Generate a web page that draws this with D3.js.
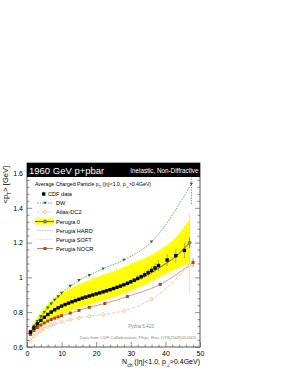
<!DOCTYPE html>
<meta charset="utf-8">
<style>
  body { margin: 0; background: #fff; }
  text { font-family: "Liberation Sans", Arial, sans-serif; }
</style>
<body>
<script src="https://cdn.jsdelivr.net/npm/d3@7"></script>
<script>

    // CDF data
    var cdfN = [1,2,3,4,5,6,7,8,9,10,11,12,13,14,15,16,17,18,19,20,21,22,23,24,25,26,27,28,29,30,31,32,33,34,35,36,37,38,40.5,43,45.5];
    var cdfVal = [0.685,0.71,0.733,0.753,0.771,0.787,0.801,0.814,0.825,0.835,0.844,0.852,0.86,0.867,0.874,0.881,0.887,0.893,0.899,0.905,0.911,0.917,0.923,0.929,0.936,0.943,0.95,0.958,0.966,0.975,0.984,0.994,1.004,1.015,1.027,1.04,1.054,1.068,1.1,1.125,1.155];
    var cdfErr = [0.004,0.004,0.004,0.004,0.004,0.004,0.004,0.004,0.004,0.004,0.005,0.005,0.005,0.005,0.005,0.005,0.006,0.006,0.006,0.006,0.007,0.007,0.007,0.008,0.008,0.009,0.01,0.011,0.012,0.013,0.014,0.016,0.018,0.02,0.022,0.025,0.028,0.031,0.035,0.04,0.045];

    // Perugia 0 + band
    var p0N = [1,2,3,4,5,6,7,8,9,10,12,14,16,18,20,22,25,28,31,34,37,40,43,47];
    var p0Val = [0.682,0.708,0.73,0.75,0.768,0.785,0.8,0.813,0.825,0.835,0.853,0.868,0.882,0.895,0.907,0.919,0.937,0.957,0.98,1.007,1.04,1.078,1.12,1.2];
    var p0Hi = [0.705,0.74,0.772,0.8,0.825,0.847,0.866,0.882,0.897,0.91,0.93,0.95,0.968,0.985,1.0,1.015,1.035,1.06,1.085,1.11,1.14,1.18,1.23,1.335];
    var p0Lo = [0.665,0.685,0.7,0.715,0.73,0.745,0.757,0.768,0.778,0.787,0.803,0.818,0.831,0.844,0.856,0.868,0.887,0.908,0.932,0.958,0.988,1.018,1.048,1.086];

    // DW
    var dwN = [1,2,3,4,5,6,7,8,9,10,12.5,15,18,22,28,36,47.5];
    var dwVal = [0.69,0.72,0.748,0.775,0.8,0.825,0.848,0.87,0.89,0.91,0.95,0.983,1.012,1.05,1.1,1.205,1.537];

    // Atlas-DC2
    var atN = [1,2,3,4,5,6,7,8,10,12.5,15,18,22,28,36,47];
    var atVal = [0.638,0.662,0.68,0.695,0.707,0.717,0.726,0.733,0.745,0.757,0.767,0.777,0.787,0.808,0.875,1.07];

    // Perugia NOCR
    var ncN = [1,2,3,4,5,6,7,8,9,10,12.5,15,18,22.5,29,38.5,48];
    var ncVal = [0.672,0.695,0.712,0.726,0.738,0.749,0.758,0.766,0.773,0.78,0.795,0.81,0.828,0.85,0.89,0.96,1.086];

    var xTicks = [0,10,20,30,40,50];
    var yTicks = [0.6,0.8,1,1.2,1.4,1.6];

    var W = 289, H = 374;
    var mLeft = 27, mRight = 200, mTop = 163, mBottom = 347;

    var svg = d3.select("body").append("svg")
        .attr("width", W)
        .attr("height", H);

    svg.append("rect").attr("width", W).attr("height", H).attr("fill", "#fff");

    var x = d3.scaleLinear().domain([0, 50]).range([mLeft, mRight]);
    var y = d3.scaleLinear().domain([0.6, 1.6]).range([mBottom, 173]);

    function zip(a, b) { return a.map(function (d, i) { return [d, b[i]]; }); }

    svg.append("clipPath").attr("id", "clip")
        .append("rect").attr("x", mLeft).attr("y", mTop).attr("width", mRight - mLeft).attr("height", mBottom - mTop);
    var plot = svg.append("g").attr("clip-path", "url(#clip)");

    // yellow band
    var area = d3.area()
        .x(function (d) { return x(d.n); })
        .y0(function (d) { return y(d.lo); })
        .y1(function (d) { return y(d.hi); })
        .curve(d3.curveMonotoneX);
    plot.append("path")
        .datum(p0N.map(function (n, i) { return {n: n, lo: p0Lo[i], hi: p0Hi[i]}; }))
        .attr("d", area)
        .attr("fill", "#ffff00");

    var line = d3.line()
        .x(function (d) { return x(d[0]); })
        .y(function (d) { return y(d[1]); })
        .curve(d3.curveMonotoneX);

    // Perugia 0
    var p0Last = [p0N[p0N.length - 1], p0Val[p0Val.length - 1]];
    plot.append("path").datum(zip(p0N, p0Val)).attr("d", line)
        .attr("fill", "none").attr("stroke", "#333").attr("stroke-width", 0.8);
    plot.append("line")
        .attr("x1", x(p0Last[0])).attr("x2", x(p0Last[0])).attr("y1", y(1.17)).attr("y2", y(1.23))
        .attr("stroke", "#333").attr("stroke-width", 0.8);
    plot.append("circle")
        .attr("cx", x(p0Last[0])).attr("cy", y(p0Last[1]))
        .attr("r", 1.5).attr("fill", "#999").attr("stroke", "#333").attr("stroke-width", 0.6);

    // NOCR
    var ncCol = "#c4562e";
    plot.append("path").datum(zip(ncN, ncVal)).attr("d", line)
        .attr("fill", "none").attr("stroke", ncCol).attr("stroke-width", 0.8).attr("opacity", 0.75);
    plot.append("line")
        .attr("x1", x(48)).attr("x2", x(48)).attr("y1", y(1.06)).attr("y2", y(1.11))
        .attr("stroke", ncCol).attr("stroke-width", 0.7);
    plot.selectAll(".nc").data(zip(ncN, ncVal)).enter().append("rect")
        .attr("x", function (d) { return x(d[0]) - 1.5; })
        .attr("y", function (d) { return y(d[1]) - 1.5; })
        .attr("width", 3).attr("height", 3).attr("fill", "#b8401a");

    // Atlas-DC2
    var atCol = "#f7a867";
    plot.append("path").datum(zip(atN, atVal)).attr("d", line)
        .attr("fill", "none").attr("stroke", atCol).attr("stroke-width", 0.7)
        .attr("stroke-dasharray", "2.5,1,0.7,1");
    plot.append("line")
        .attr("x1", x(47)).attr("x2", x(47)).attr("y1", y(0.91)).attr("y2", y(1.37))
        .attr("stroke", atCol).attr("stroke-width", 0.7).attr("stroke-dasharray", "1,1");
    plot.selectAll(".at").data(zip(atN, atVal)).enter().append("path")
        .attr("transform", function (d) { return "translate(" + x(d[0]) + "," + y(d[1]) + ")"; })
        .attr("d", "M0,-2L1.6,0L0,2L-1.6,0Z")
        .attr("fill", "#fff").attr("stroke", atCol).attr("stroke-width", 0.7);

    // DW
    var dwCol = "#2e8b2e";
    plot.append("path").datum(zip(dwN, dwVal)).attr("d", line)
        .attr("fill", "none").attr("stroke", dwCol).attr("stroke-width", 0.7)
        .attr("stroke-dasharray", "1.5,1.2");
    plot.append("line")
        .attr("x1", x(47.5)).attr("x2", x(47.5)).attr("y1", y(1.42)).attr("y2", y(1.66))
        .attr("stroke", dwCol).attr("stroke-width", 0.7).attr("stroke-dasharray", "1.5,1.2");
    plot.selectAll(".dw").data(zip(dwN, dwVal)).enter().append("path")
        .attr("transform", function (d) { return "translate(" + x(d[0]) + "," + y(d[1]) + ")"; })
        .attr("d", "M-1.7,-1.3L1.7,-1.3L0,1.6Z")
        .attr("fill", "#1a6e1a");

    // CDF data
    plot.selectAll(".cdfErr").data(cdfN).enter().append("line")
        .attr("x1", function (d) { return x(d); })
        .attr("x2", function (d) { return x(d); })
        .attr("y1", function (d, i) { return y(cdfVal[i] - cdfErr[i]); })
        .attr("y2", function (d, i) { return y(cdfVal[i] + cdfErr[i]); })
        .attr("stroke", "#777").attr("stroke-width", 0.6);
    plot.selectAll(".cdf").data(cdfN).enter().append("rect")
        .attr("x", function (d) { return x(d) - 1.7; })
        .attr("y", function (d, i) { return y(cdfVal[i]) - 1.7; })
        .attr("width", 3.4).attr("height", 3.4).attr("fill", "#000");

    // axes
    var axisCol = "#444";
    function styleAxis(g) {
        g.select(".domain").remove();
        g.selectAll("line").attr("stroke", axisCol).attr("stroke-width", 0.6);
        g.selectAll("text").attr("fill", "#000").style("font-size", "7px")
            .style("font-family", "'Liberation Sans', Arial, sans-serif");
    }
    var yMinor = d3.range(0.64, 1.6, 0.04).filter(function (v) { return Math.abs(v * 5 - Math.round(v * 5)) > 0.01; });
    var xMinor = d3.range(2, 50, 2).filter(function (v) { return v % 10 !== 0; });

    svg.append("g").attr("transform", "translate(" + mLeft + ",0)")
        .call(d3.axisLeft(y).tickValues(yTicks).tickSize(-5).tickPadding(4)
            .tickFormat(function (d) { return d === 1 ? "1" : d3.format(".1f")(d); }))
        .call(styleAxis);
    svg.append("g").attr("transform", "translate(" + mLeft + ",0)")
        .call(d3.axisLeft(y).tickValues(yMinor).tickSize(-2.5).tickFormat(""))
        .call(styleAxis);
    svg.append("g").attr("transform", "translate(" + mRight + ",0)")
        .call(d3.axisRight(y).tickValues(yTicks).tickSize(-5).tickFormat(""))
        .call(styleAxis);
    svg.append("g").attr("transform", "translate(" + mRight + ",0)")
        .call(d3.axisRight(y).tickValues(yMinor).tickSize(-2.5).tickFormat(""))
        .call(styleAxis);
    svg.append("g").attr("transform", "translate(0," + mBottom + ")")
        .call(d3.axisBottom(x).tickValues(xTicks).tickSize(-5).tickPadding(4))
        .call(styleAxis);
    svg.append("g").attr("transform", "translate(0," + mBottom + ")")
        .call(d3.axisBottom(x).tickValues(xMinor).tickSize(-2.5).tickFormat(""))
        .call(styleAxis);

    // frame
    svg.append("rect")
        .attr("x", mLeft).attr("y", mTop).attr("width", mRight - mLeft).attr("height", mBottom - mTop)
        .attr("fill", "none").attr("stroke", "#555").attr("stroke-width", 1);

    // header bar
    svg.append("rect")
        .attr("x", mLeft).attr("y", mTop).attr("width", mRight - mLeft).attr("height", 14)
        .attr("fill", "#000");
    svg.append("text").attr("x", mLeft + 2).attr("y", mTop + 10.5)
        .attr("fill", "#fff").style("font-size", "9.5px").text("1960 GeV p+pbar");
    svg.append("text").attr("x", mRight - 1.5).attr("y", mTop + 10)
        .attr("fill", "#fff").attr("text-anchor", "end").style("font-size", "6.3px")
        .text("Inelastic, Non-Diffractive");

    // legend
    var title = svg.append("text").attr("x", 35).attr("y", 186).style("font-size", "5.2px");
    title.append("tspan").text("Average Charged Particle p");
    title.append("tspan").attr("baseline-shift", "sub").style("font-size", "3.8px").text("T");
    title.append("tspan").text(" (|\u03b7|<1.0, p");
    title.append("tspan").attr("baseline-shift", "sub").style("font-size", "3.8px").text("\u22a5");
    title.append("tspan").text(">0.4GeV)");

    var legendNames = ["CDF data", "DW", "Atlas-DC2", "Perugia 0", "Perugia HARD", "Perugia SOFT", "Perugia NOCR"];
    var legendY = [194, 203, 212, 221.5, 230.5, 239.5, 248.5];
    var lg = svg.append("g");
    var lx0 = 37, lx1 = 53, lxc = 45;

    // CDF
    lg.append("rect").attr("x", 42).attr("y", legendY[0] - 1.7).attr("width", 3.4).attr("height", 3.4).attr("fill", "#000");
    // DW
    lg.append("line").attr("x1", lx0).attr("x2", lx1).attr("y1", legendY[1]).attr("y2", legendY[1])
        .attr("stroke", dwCol).attr("stroke-width", 0.7).attr("stroke-dasharray", "1.5,1.2");
    lg.append("path").attr("transform", "translate(" + lxc + "," + legendY[1] + ")")
        .attr("d", "M-1.7,-1.3L1.7,-1.3L0,1.6Z").attr("fill", "#1a6e1a");
    // Atlas
    lg.append("line").attr("x1", lx0).attr("x2", lx1).attr("y1", legendY[2]).attr("y2", legendY[2])
        .attr("stroke", atCol).attr("stroke-width", 0.7).attr("stroke-dasharray", "2.5,1,0.7,1");
    lg.append("path").attr("transform", "translate(" + lxc + "," + legendY[2] + ")")
        .attr("d", "M0,-2L1.6,0L0,2L-1.6,0Z").attr("fill", "#fff").attr("stroke", atCol).attr("stroke-width", 0.7);
    // Perugia 0
    lg.append("rect").attr("x", 35).attr("y", legendY[3] - 3).attr("width", 19).attr("height", 6).attr("fill", "#ffff00");
    lg.append("line").attr("x1", 35).attr("x2", 54).attr("y1", legendY[3]).attr("y2", legendY[3])
        .attr("stroke", "#333").attr("stroke-width", 0.8);
    lg.append("circle").attr("cx", lxc).attr("cy", legendY[3]).attr("r", 1.5)
        .attr("fill", "#999").attr("stroke", "#333").attr("stroke-width", 0.6);
    // HARD
    lg.append("line").attr("x1", lx0).attr("x2", lx1).attr("y1", legendY[4]).attr("y2", legendY[4])
        .attr("stroke", "#aaa").attr("stroke-width", 0.6).attr("stroke-dasharray", "1.5,1");
    // SOFT
    lg.append("line").attr("x1", lx0).attr("x2", lx1).attr("y1", legendY[5]).attr("y2", legendY[5])
        .attr("stroke", "#ccc").attr("stroke-width", 0.6).attr("stroke-dasharray", "2,1");
    // NOCR
    lg.append("line").attr("x1", lx0).attr("x2", lx1).attr("y1", legendY[6]).attr("y2", legendY[6])
        .attr("stroke", ncCol).attr("stroke-width", 0.8);
    lg.append("rect").attr("x", lxc - 1.5).attr("y", legendY[6] - 1.5).attr("width", 3).attr("height", 3).attr("fill", "#b8401a");

    lg.selectAll(".lt").data(legendNames).enter().append("text")
        .attr("x", function (d, i) { return i === 0 ? 48 : 56; })
        .attr("y", function (d, i) { return legendY[i] + 2; })
        .style("font-size", "5.6px")
        .text(function (d) { return d; });

    // notes
    svg.append("text").attr("x", 141).attr("y", 328).attr("text-anchor", "middle")
        .attr("fill", "#888").style("font-size", "4.6px").text("Pythia 6.423");
    svg.append("text").attr("x", 196).attr("y", 339).attr("text-anchor", "end")
        .attr("fill", "#888").style("font-size", "4.4px")
        .text("Data from CDF Collaboration, Phys. Rev. D79(2009)112005");

    // axis titles
    var xl = svg.append("text").attr("x", 200).attr("y", 364).attr("text-anchor", "end").style("font-size", "7px");
    xl.append("tspan").text("N");
    xl.append("tspan").attr("baseline-shift", "sub").style("font-size", "5px").text("ch");
    xl.append("tspan").text(" (|\u03b7|<1.0, p");
    xl.append("tspan").attr("baseline-shift", "sub").style("font-size", "5px").text("\u22a5");
    xl.append("tspan").text(">0.4GeV)");

    var yl = svg.append("text").attr("transform", "translate(8,166) rotate(-90)")
        .attr("text-anchor", "end").style("font-size", "7.5px");
    yl.append("tspan").text("<p");
    yl.append("tspan").attr("baseline-shift", "sub").style("font-size", "5.3px").text("T");
    yl.append("tspan").text("> [GeV]");

</script>
</body>
